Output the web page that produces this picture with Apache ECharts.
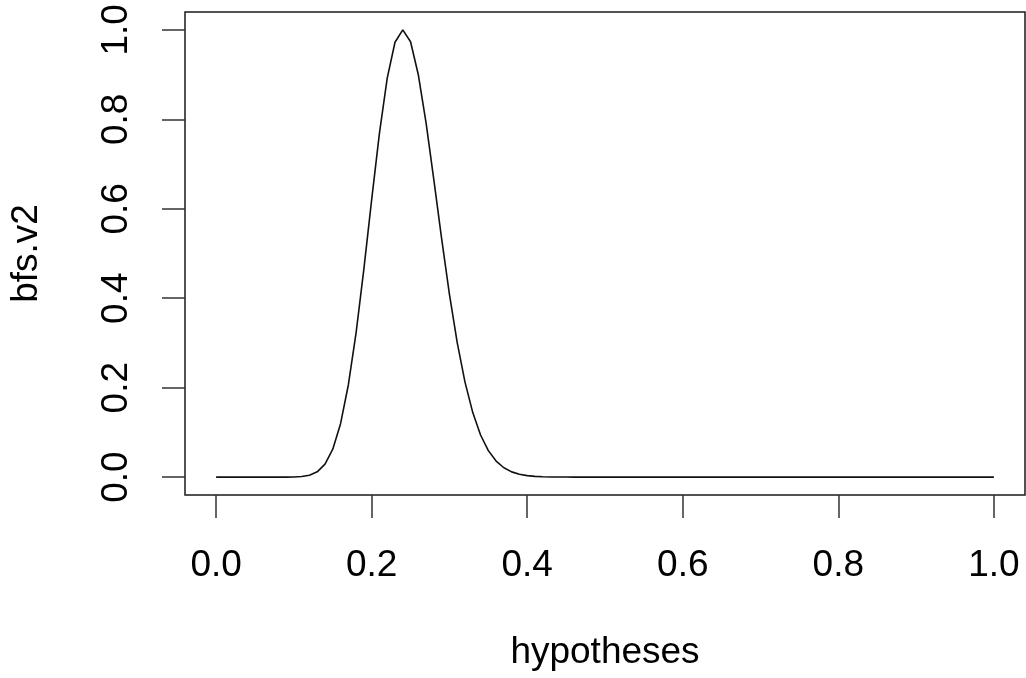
<!DOCTYPE html>
<html>
<head>
<meta charset="utf-8">
<script src="https://cdn.jsdelivr.net/npm/echarts@6/dist/echarts.min.js"></script>
<style>html,body{margin:0;padding:0;background:#fff}#c{width:1026px;height:678px}</style>
</head>
<body>
<div id="c"></div>
<script>
const hypotheses = [0,0.01,0.02,0.03,0.04,0.05,0.06,0.07,0.08,0.09,
0.10,0.11,0.12,0.13,0.14,0.15,0.16,0.17,0.18,0.19,
0.20,0.21,0.22,0.23,0.24,0.25,0.26,0.27,0.28,0.29,
0.30,0.31,0.32,0.33,0.34,0.35,0.36,0.37,0.38,0.39,
0.40,0.41,0.42,0.43,0.44,0.45,0.46,0.47,0.48,0.49,
0.50,0.51,0.52,0.53,0.54,0.55,0.56,0.57,0.58,0.59,
0.60,0.61,0.62,0.63,0.64,0.65,0.66,0.67,0.68,0.69,
0.70,0.71,0.72,0.73,0.74,0.75,0.76,0.77,0.78,0.79,
0.80,0.81,0.82,0.83,0.84,0.85,0.86,0.87,0.88,0.89,
0.90,0.91,0.92,0.93,0.94,0.95,0.96,0.97,0.98,0.99,1.00];
const bfsV2 = [0,0,0,0,0,0,0,0,0.00001,0.00005,
0.0003,0.0012,0.0041,0.0118,0.029,0.0624,0.1194,0.206,0.3232,0.4657,
0.6204,0.7692,0.8922,0.9724,1,0.9735,0.8996,0.7913,0.664,0.5325,
0.4088,0.3008,0.2125,0.1443,0.0942,0.0592,0.0358,0.0209,0.0117,0.0064,
0.0033,0.0017,0.0008,0.0004,0.0002,0.0001,0,0,0,0,
0,0,0,0,0,0,0,0,0,0,
0,0,0,0,0,0,0,0,0,0,
0,0,0,0,0,0,0,0,0,0,
0,0,0,0,0,0,0,0,0,0,
0,0,0,0,0,0,0,0,0,0,0];
const xTicks = [0, 0.2, 0.4, 0.6, 0.8, 1.0];
const yTicks = [0, 0.2, 0.4, 0.6, 0.8, 1.0];

const FONT = 'Liberation Sans';
const chart = echarts.init(document.getElementById('c'), null, {renderer: 'canvas'});
chart.setOption({
  animation: false,
  backgroundColor: '#fff',
  grid: {left: 184, right: 1, top: 12, bottom: 183, show: true, borderColor: '#1a1a1a', borderWidth: 1.5, backgroundColor: 'transparent'},
  xAxis: {
    type: 'value', min: -0.04, max: 1.04,
    name: 'hypotheses', nameLocation: 'middle', nameGap: 139,
    nameTextStyle: {fontFamily: FONT, fontSize: 37, color: '#000', verticalAlign: 'top'},
    axisLine: {show: false, onZero: false},
    splitLine: {show: false},
    axisTick: {show: true, inside: false, length: 23, customValues: xTicks, lineStyle: {color: '#333', width: 1.5}},
    axisLabel: {customValues: xTicks, margin: 52, fontFamily: FONT, fontSize: 37, color: '#000', formatter: v => v.toFixed(1)}
  },
  yAxis: {
    type: 'value', min: -0.04, max: 1.04,
    name: 'bfs.v2', nameLocation: 'middle', nameGap: 140, nameRotate: 90,
    nameTextStyle: {fontFamily: FONT, fontSize: 37, color: '#000'},
    axisLine: {show: false, onZero: false},
    splitLine: {show: false},
    axisTick: {show: true, inside: false, length: 23, customValues: yTicks, lineStyle: {color: '#333', width: 1.5}},
    axisLabel: {customValues: yTicks, rotate: 90, margin: 50, fontFamily: FONT, fontSize: 37, color: '#000', formatter: v => v.toFixed(1)}
  },
  series: [{
    type: 'line',
    data: hypotheses.map((h, i) => [h, bfsV2[i]]),
    showSymbol: false,
    smooth: false,
    lineStyle: {color: '#111', width: 1.6},
    silent: true
  }]
});
</script>
</body>
</html>
